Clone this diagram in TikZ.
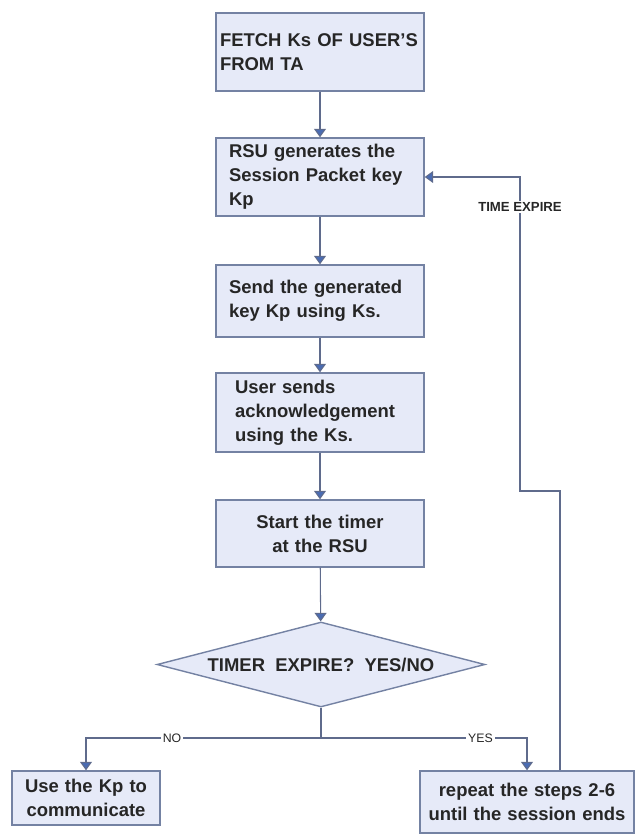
\documentclass[tikz,border=0pt]{standalone}
\usepackage{fontspec}
\setmainfont{Liberation Sans}
\usetikzlibrary{arrows.meta,shapes.geometric}

\definecolor{boxline}{HTML}{7482A3}
\definecolor{boxfill}{HTML}{E6EAF8}
\definecolor{flowline}{HTML}{5F6B8C}
\definecolor{tipblue}{HTML}{4A6CB3}
\definecolor{inktext}{HTML}{262626}

\begin{document}
\begin{tikzpicture}[
    >={Triangle[width=0.24cm,length=0.17cm,fill=tipblue]},
    font=\bfseries\fontsize{10.5}{13.6}\selectfont, text=inktext,
    stepbox/.style={draw=boxline, fill=boxfill, line width=0.8pt, inner xsep=0.26cm, inner ysep=0pt, text width=3.64cm, align=left},
    flow/.style={->, draw=flowline, line width=0.6pt},
    tag/.style={font=\fontsize{7}{8}\selectfont, fill=white, inner sep=1pt, text=inktext}]
  \useasboundingbox (0,0) rectangle (12.7,-16.68);
  % main column
  \node[stepbox, inner xsep=0.08cm, text width=4.0cm, minimum height=1.56cm] (fetch) at (6.40,-1.04) {FETCH Ks OF USER'S\\FROM TA};
  \node[stepbox, minimum height=1.56cm] (rsu) at (6.40,-3.54) {RSU generates the\\Session Packet key\\Kp};
  \node[stepbox, minimum height=1.44cm] (send) at (6.40,-6.02) {Send the generated\\key Kp using Ks.};
  \node[stepbox, inner xsep=0.38cm, text width=3.4cm, minimum height=1.58cm] (ack) at (6.40,-8.25) {User sends\\acknowledgement\\using the Ks.};
  \node[stepbox, align=center, minimum height=1.34cm] (timer) at (6.40,-10.67) {Start the timer\\at the RSU};
  % decision
  \node[diamond, aspect=3.86, draw=boxline, fill=boxfill, line width=0.8pt, minimum width=6.56cm, minimum height=1.7cm, inner sep=0pt] (expire) at (6.42,-13.29) {TIMER\ \ EXPIRE?\ \ YES/NO};
  \coordinate (split) at (6.42,-14.76);
  % outcomes
  \node[stepbox, align=center, inner xsep=0.1cm, text width=2.76cm, minimum height=1.08cm] (use) at (1.72,-15.96) {Use the Kp to\\communicate};
  \node[stepbox, align=center, inner xsep=0.1cm, text width=4.08cm, minimum height=1.24cm] (repeat) at (10.54,-16.04) {repeat the steps 2-6\\until the session ends};
  % loop back
  \coordinate (lowturn) at (11.2,-9.82);
  \coordinate (highturn) at (10.4,-9.82);
  % arrows
  \draw[flow] (fetch) -- (rsu);
  \draw[flow] (rsu) -- (send);
  \draw[flow] (send) -- (ack);
  \draw[flow] (ack) -- (timer);
  \draw[flow] (timer) -- (expire);
  \draw[draw=flowline, line width=0.6pt] (expire.south) -- (split);
  \draw[flow] (split) -| node[tag, pos=0.317]{NO} (use.north);
  \draw[flow] (split) -| node[tag, pos=0.387]{YES} (repeat.north);
  \draw[flow] (repeat.north -| lowturn) -- (lowturn) -- (highturn) |- node[tag, pos=0.452, font=\fontsize{7.5}{9}\selectfont\bfseries]{TIME EXPIRE} (rsu.east);
\end{tikzpicture}
\end{document}
